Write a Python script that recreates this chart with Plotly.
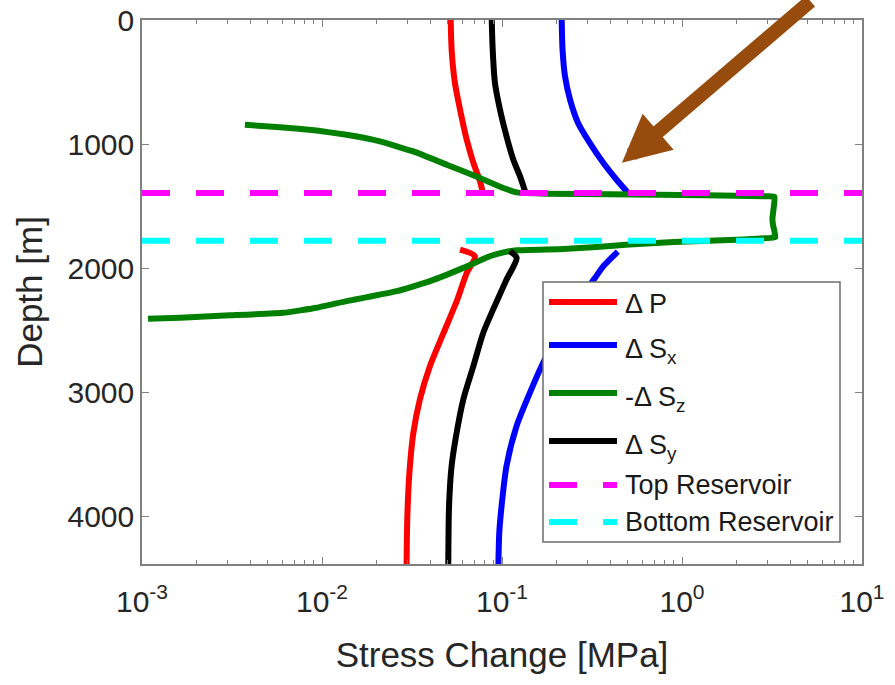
import math
import plotly.graph_objects as go

# ---------------- data ----------------
# Delta P (red)
dp_depth_upper = [0, 241, 510, 724, 966, 1153, 1301, 1388]
dp_val_upper = [0.0519, 0.0525, 0.0548, 0.0585, 0.0637, 0.0694, 0.0755, 0.0781]
dp_depth_lower = [1852, 1905, 2039, 2254, 2522, 2790, 3058, 3327, 3649, 3998, 4387]
dp_val_lower = [0.0585, 0.0708, 0.0637, 0.0565, 0.0474, 0.0398, 0.035, 0.0322, 0.0306, 0.0298, 0.0295]

# Delta Sx (blue)
sx_depth_upper = [0, 241, 456, 644, 832, 993, 1154, 1288, 1392]
sx_val_upper = [0.2146, 0.217, 0.224, 0.239, 0.265, 0.308, 0.366, 0.433, 0.50]
sx_depth_lower = [1868, 1985, 2079, 2400, 2790, 3005, 3273, 3595, 3917, 4132, 4387]
sx_val_lower = [0.44, 0.366, 0.329, 0.23, 0.166, 0.143, 0.1206, 0.106, 0.0995, 0.0966, 0.0955]

# -Delta Sz (green)
sz_depth = [845, 864, 891, 926, 979, 1060, 1167, 1274, 1355, 1390, 1401, 1406, 1414,
            1422, 1426, 1500, 1600, 1650, 1700, 1752, 1757, 1770, 1790, 1811, 1830, 1846, 1857,
            1870, 1905, 1999, 2106, 2187, 2241, 2267, 2321, 2361, 2382, 2401, 2409]
sz_val = [0.00373, 0.00585, 0.00934, 0.0137, 0.021, 0.0322, 0.0493, 0.0755, 0.1017,
          0.1206, 0.177, 0.393, 1.34, 3.0, 3.27, 3.24, 3.18, 3.2, 3.26, 3.3, 3.1, 2.2, 0.9,
          0.51, 0.336, 0.219, 0.121, 0.105, 0.0855, 0.061, 0.0398, 0.026, 0.017,
          0.0137, 0.00934, 0.0061, 0.00308, 0.00163, 0.00108]

# Delta Sy (black)
sy_depth_upper = [0, 241, 510, 724, 939, 1127, 1261, 1355, 1390]
sy_val_upper = [0.0877, 0.0888, 0.0914, 0.0975, 0.106, 0.1156, 0.126, 0.1325, 0.135]
sy_depth_lower = [1865, 1918, 2093, 2254, 2522, 2790, 3058, 3327, 3595, 3917, 4387]
sy_val_lower = [0.1107, 0.1206, 0.106, 0.0945, 0.0787, 0.0694, 0.061, 0.056, 0.0525, 0.0508, 0.0503]

# Reservoir boundaries
top_reservoir_depth = 1395
bottom_reservoir_depth = 1780
x_extent = [1e-3, 10]

# arrow tip (stress, depth)
arrow_tip = (0.464, 1151)

x_tick_vals = [1e-3, 1e-2, 1e-1, 1e0, 1e1]
x_tick_text = ["10<sup>-3</sup>", "10<sup>-2</sup>", "10<sup>-1</sup>", "10<sup>0</sup>", "10<sup>1</sup>"]
y_tick_vals = [0, 1000, 2000, 3000, 4000]
depth_range = [4387, 0]

labels = ["Δ P", "Δ S<sub>x</sub>", "-Δ S<sub>z</sub>", "Δ S<sub>y</sub>", "Top Reservoir", "Bottom Reservoir"]

# ---------------- figure ----------------
FONT = "Liberation Sans, Arial, Helvetica, sans-serif"
W, H = 895, 685
ML, MR, MT, MB = 142, 33, 20, 121
LW = 6
DASH = "28px,26px"


def join(d1, v1, d2, v2):
    return v1 + [None] + v2, d1 + [None] + d2


def smooth_line(color, s=0.7):
    return dict(color=color, width=LW, shape="spline", smoothing=s)


fig = go.Figure()
x, y = join(dp_depth_upper, dp_val_upper, dp_depth_lower, dp_val_lower)
fig.add_trace(go.Scatter(x=x, y=y, mode="lines", line=smooth_line("#ff0000"), name=labels[0]))
x, y = join(sx_depth_upper, sx_val_upper, sx_depth_lower, sx_val_lower)
fig.add_trace(go.Scatter(x=x, y=y, mode="lines", line=smooth_line("#0000ff"), name=labels[1]))
fig.add_trace(go.Scatter(x=sz_val, y=sz_depth, mode="lines", line=smooth_line("#008000", 0.3), name=labels[2]))
x, y = join(sy_depth_upper, sy_val_upper, sy_depth_lower, sy_val_lower)
fig.add_trace(go.Scatter(x=x, y=y, mode="lines", line=smooth_line("#000000"), name=labels[3]))
fig.add_trace(go.Scatter(x=x_extent, y=[top_reservoir_depth] * 2, mode="lines",
                         line=dict(color="#ff00ff", width=LW, dash=DASH), name=labels[4]))
fig.add_trace(go.Scatter(x=x_extent, y=[bottom_reservoir_depth] * 2, mode="lines",
                         line=dict(color="#00ffff", width=LW, dash=DASH), name=labels[5]))

# ---------------- manual legend ----------------
pw, ph = W - ML - MR, H - MT - MB


def px(v):
    return (v - ML) / pw


def py(v):
    return (H - MB - v) / ph


shapes = [dict(type="rect", xref="paper", yref="paper", x0=px(543), x1=px(840), y0=py(542), y1=py(282),
               line=dict(color="#6e6e6e", width=1.5), fillcolor="white", layer="above")]
annotations = []
rows = [302, 345, 393, 441, 485, 522]
text_rows = [304, 351, 399, 447, 485, 522]
for tr, r, tr_y in zip(fig.data, rows, text_rows):
    shapes.append(dict(type="line", xref="paper", yref="paper", x0=px(549), x1=px(617), y0=py(r), y1=py(r),
                       line=dict(color=tr.line.color, width=LW, dash=tr.line.dash or "solid"), layer="above"))
    annotations.append(dict(xref="paper", yref="paper", x=px(623), y=py(tr_y), xanchor="left", yanchor="middle",
                            text=tr.name, showarrow=False, font=dict(family=FONT, size=27, color="#1a1a1a")))

# brown arrow
annotations.append(dict(x=math.log10(arrow_tip[0]), y=arrow_tip[1], xref="x", yref="y", text="",
                        showarrow=True, arrowhead=2, arrowsize=0.68, arrowwidth=14, arrowcolor="#974b0c",
                        ax=190, ay=-175))

minor_x = [k * 10.0 ** e for e in range(-3, 1) for k in range(2, 10)]

axis_common = dict(showline=True, linecolor="#808080", linewidth=1.5, mirror="allticks",
                   ticks="inside", ticklen=7, tickwidth=1, tickcolor="#808080", showgrid=False, zeroline=False,
                   tickfont=dict(family=FONT, size=30, color="#262626"))

fig.update_layout(
    width=W, height=H, margin=dict(l=ML, r=MR, t=MT, b=MB, autoexpand=False),
    paper_bgcolor="white", plot_bgcolor="white", showlegend=False,
    shapes=shapes, annotations=annotations,
    xaxis=dict(type="log", range=[-3, 1], tickmode="array", tickvals=x_tick_vals, ticktext=x_tick_text,
               ticklabelstandoff=10,
               minor=dict(ticks="inside", ticklen=4, tickwidth=1, tickcolor="#808080",
                          tickmode="array", tickvals=minor_x, showgrid=False),
               title=dict(text="Stress Change [MPa]", font=dict(family=FONT, size=35, color="#262626"), standoff=26),
               **axis_common),
    yaxis=dict(range=depth_range, tickmode="array", tickvals=y_tick_vals,
               title=dict(text="Depth [m]", font=dict(family=FONT, size=35, color="#262626"), standoff=14),
               **axis_common),
)
fig.update_xaxes(automargin=False)
fig.update_yaxes(automargin=False)
fig.write_html("out.html")
